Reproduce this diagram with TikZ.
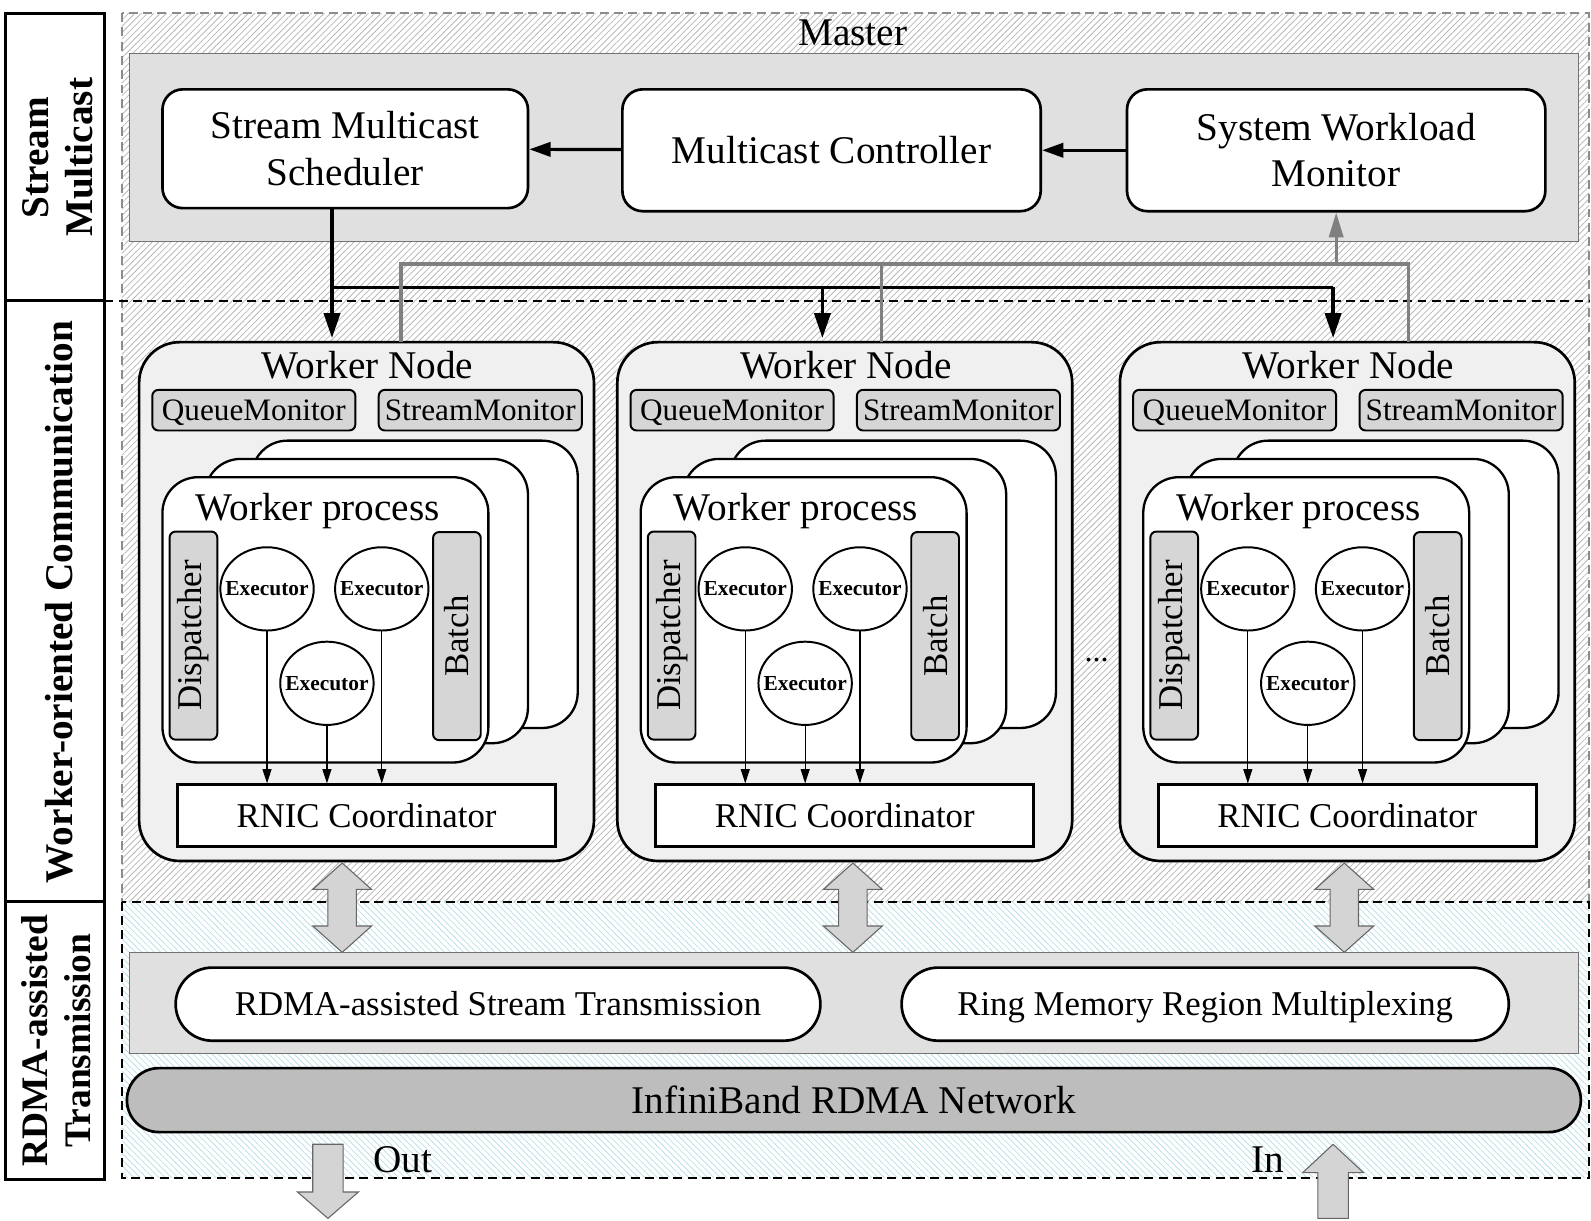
\documentclass[tikz,border=0pt]{standalone}
\usepackage{fontspec}
\setmainfont{Liberation Serif}
\usepackage{xcolor}
\usepackage{tikz}
\usetikzlibrary{positioning,calc,shapes.misc,shapes.geometric,arrows.meta,patterns.meta}
\newcommand{\pxl}{0.02cm}
\definecolor{hatchblue}{RGB}{190,224,230}
\tikzset{
  bigtxt/.style={font=\fontsize{22}{26}\selectfont, inner sep=0pt},
  sidelbl/.style={font=\fontsize{22}{25}\selectfont\bfseries, align=center, rotate=90, inner sep=0pt},
  ctrl/.style={draw, line width=1.5pt, rounded corners=0.4cm, fill=white, align=center,
    font=\fontsize{22}{26}\selectfont, inner sep=0pt},
  layer/.style={draw=black!55, line width=0.6pt, fill=black!12, inner sep=0pt},
  worker/.style={draw, line width=1.5pt, rounded corners=0.8cm, fill=black!6, inner sep=0pt},
  mon/.style={draw, line width=1.1pt, rounded corners=0.12cm, fill=black!16, inner sep=0pt,
    text height=11.5pt, text depth=0pt,
    font=\fontsize{17.5}{20}\selectfont, minimum width=200*\pxl, minimum height=40*\pxl},
  proc/.style={draw, line width=1.3pt, rounded corners=0.7cm, fill=white, inner sep=0pt},
  bar/.style={draw, line width=1.1pt, rounded corners=0.12cm, fill=black!16, rotate=90, inner sep=0pt,
    minimum width=205*\pxl, minimum height=47*\pxl, font=\fontsize{19.5}{22}\selectfont},
  exec/.style={draw, ellipse, line width=1.1pt, fill=white, inner xsep=-7pt, inner ysep=0pt,
    minimum width=92*\pxl, minimum height=82*\pxl, font=\fontsize{12}{14}\selectfont\bfseries},
  rnic/.style={draw, line width=1.6pt, fill=white, minimum width=372*\pxl, minimum height=61*\pxl,
    font=\fontsize{19.5}{22}\selectfont},
  pill/.style={draw, rounded rectangle, line width=1.5pt, fill=white, minimum height=72*\pxl,
    inner sep=0pt, text height=12.9pt, text depth=0pt, font=\fontsize{19.5}{22}\selectfont},
  ibnet/.style={pill, fill=black!26, minimum height=63*\pxl, text height=14.5pt,
    font=\fontsize{22}{26}\selectfont},
  fatarrow/.style={draw=black!60, line width=0.6pt, fill=black!17},
  ctrlarrow/.style={line width=1.8pt, -{Triangle[length=12pt,width=8pt]}},
  busline/.style={line width=2pt, -{Triangle[length=14pt,width=9pt]}},
  monline/.style={line width=1.8pt, draw=black!50},
  flow/.style={line width=0.7pt, -{Triangle[length=8pt,width=5pt]}}
}

\begin{document}
\begin{tikzpicture}[x=0.02cm, y=-0.02cm]
  \useasboundingbox (0,0) rectangle (1567,1202);

  % regions
  \draw[pattern={Lines[angle=45,distance=2.5pt,line width=0.45pt]}, pattern color=black!28,
    draw=black!45, dash pattern=on 5pt off 3pt, line width=0.9pt] (120,13) rectangle (1565,888);
  \draw[pattern={Lines[angle=-45,distance=2.5pt,line width=0.45pt]}, pattern color=hatchblue,
    draw=black, dash pattern=on 5pt off 3pt, line width=1.1pt] (120,888) rectangle (1565,1160);
  \draw[dash pattern=on 5pt off 3pt, line width=1.1pt] (103,296) -- (1565,296);

  % side labels
  \draw[line width=1.6pt] (5,13) rectangle (103,1162);
  \draw[line width=1.6pt] (5,296) -- (103,296) (5,888) -- (103,888);
  \node[sidelbl] (lblsm) at (57,155) {Stream\\Multicast};
  \node[sidelbl] (lblwc) at (58,593) {Worker-oriented Communication};
  \node[sidelbl, font=\fontsize{21}{24}\selectfont\bfseries] (lblrt) at (55,1025) {RDMA-assisted\\Transmission};

  % master
  \node[bigtxt] (mastert) at (840,32) {Master};
  \node[layer, minimum width=1427*\pxl, minimum height=185*\pxl] (master) at (841.5,145.5) {};
  \node[ctrl, minimum width=360*\pxl, minimum height=117*\pxl] (sched) at (340,146.5) {Stream Multicast\\Scheduler};
  \node[ctrl, minimum width=412*\pxl, minimum height=120*\pxl] (mc) at (819,148) {Multicast Controller};
  \node[ctrl, minimum width=412*\pxl, minimum height=120*\pxl] (swm) at (1316,148) {System Workload\\Monitor};
  \draw[ctrlarrow] (mc) -- (sched);
  \draw[ctrlarrow] (swm) -- (mc);

  % worker nodes
  \foreach \ox/\nm/\ax/\gx/\dx in {0/a/327/395/337, 471/b/810/868/840, 966/c/1313/1387/1324} {
    \begin{scope}[shift={(\ox,0)}]
      \node[worker, minimum width=448*\pxl, minimum height=511*\pxl] (wn\nm) at (361,592.5) {};
      \node[bigtxt] (wt\nm) at (362,360) {Worker Node};
      \node[mon] (qm\nm) at (250,404) {QueueMonitor};
      \node[mon] (sm\nm) at (473,404) {StreamMonitor};
      \node[proc, minimum width=321*\pxl, minimum height=283*\pxl] (pc\nm) at (408.5,575.5) {};
      \node[proc, minimum width=318*\pxl, minimum height=280*\pxl] (pb\nm) at (361,592) {};
      \node[proc, minimum width=321*\pxl, minimum height=281*\pxl] (pa\nm) at (320.5,610.5) {};
      \node[bigtxt] (pt\nm) at (313,503) {Worker process};
      \node[bar] (dp\nm) at (190.5,626) {Dispatcher};
      \node[bar] (bt\nm) at (450,626.5) {Batch};
      \node[exec] (ea\nm) at (263,580) {Executor};
      \node[exec] (eb\nm) at (376,580) {Executor};
      \node[exec] (ec\nm) at (322,673) {Executor};
      \node[rnic] (rn\nm) at (361,803.5) {RNIC Coordinator};
      \draw[flow] (ea\nm.south) -- (ea\nm.south |- rn\nm.north);
      \draw[flow] (ec\nm.south) -- (ec\nm.south |- rn\nm.north);
      \draw[flow] (eb\nm.south) -- (eb\nm.south |- rn\nm.north);
    \end{scope}
    \coordinate (drop\nm) at (\ax,333);
    \coordinate (tap\nm) at (\gx,337);
    % up/down arrow to the transmission layer
    \draw[fatarrow] (\dx,850) -- ++(29,26) -- ++(-15,0) -- ++(0,36) -- ++(15,0) -- ++(-29,26)
      -- ++(-29,-26) -- ++(15,0) -- ++(0,-36) -- ++(-15,0) -- cycle;
  }
  \node[font=\fontsize{18}{20}\selectfont] (more) at (1080,650) {...};

  % multicast bus
  \coordinate (busl) at (0,283);
  \coordinate (monl) at (0,260);
  \draw[busline] (sched.south -| dropa) -- (dropa);
  \draw[line width=2pt] (dropa |- busl) -- (dropc |- busl);
  \draw[busline] (dropb |- busl) -- (dropb);
  \draw[busline] (dropc |- busl) -- (dropc);
  \draw[monline] (tapa) -- (tapa |- monl) -- (tapc |- monl) -- (tapc);
  \draw[monline] (tapb) -- (tapb |- monl);
  \draw[monline, -{Triangle[length=14pt,width=8pt]}] (swm.south |- monl) -- (swm.south);

  % transmission
  \node[layer, minimum width=1427*\pxl, minimum height=100*\pxl] (trans) at (841.5,988) {};
  \node[pill, minimum width=635*\pxl] (rst) at (490.5,989) {RDMA-assisted Stream Transmission};
  \node[pill, minimum width=598*\pxl] (rmr) at (1187,989) {Ring Memory Region Multiplexing};
  \node[ibnet, minimum width=1432*\pxl] (ib) at (841,1083.5) {InfiniBand RDMA Network};

  % out / in
  \draw[fatarrow] (308,1127) -- (338,1127) -- (338,1174) -- (353,1174) -- (323,1200) -- (293,1174)
    -- (308,1174) -- cycle;
  \draw[fatarrow] (1313,1127) -- (1343,1155) -- (1328,1155) -- (1328,1200) -- (1298,1200)
    -- (1298,1155) -- (1283,1155) -- cycle;
  \node[bigtxt] (outl) at (397,1142) {Out};
  \node[bigtxt] (inl) at (1249,1142) {In};
\end{tikzpicture}
\end{document}
